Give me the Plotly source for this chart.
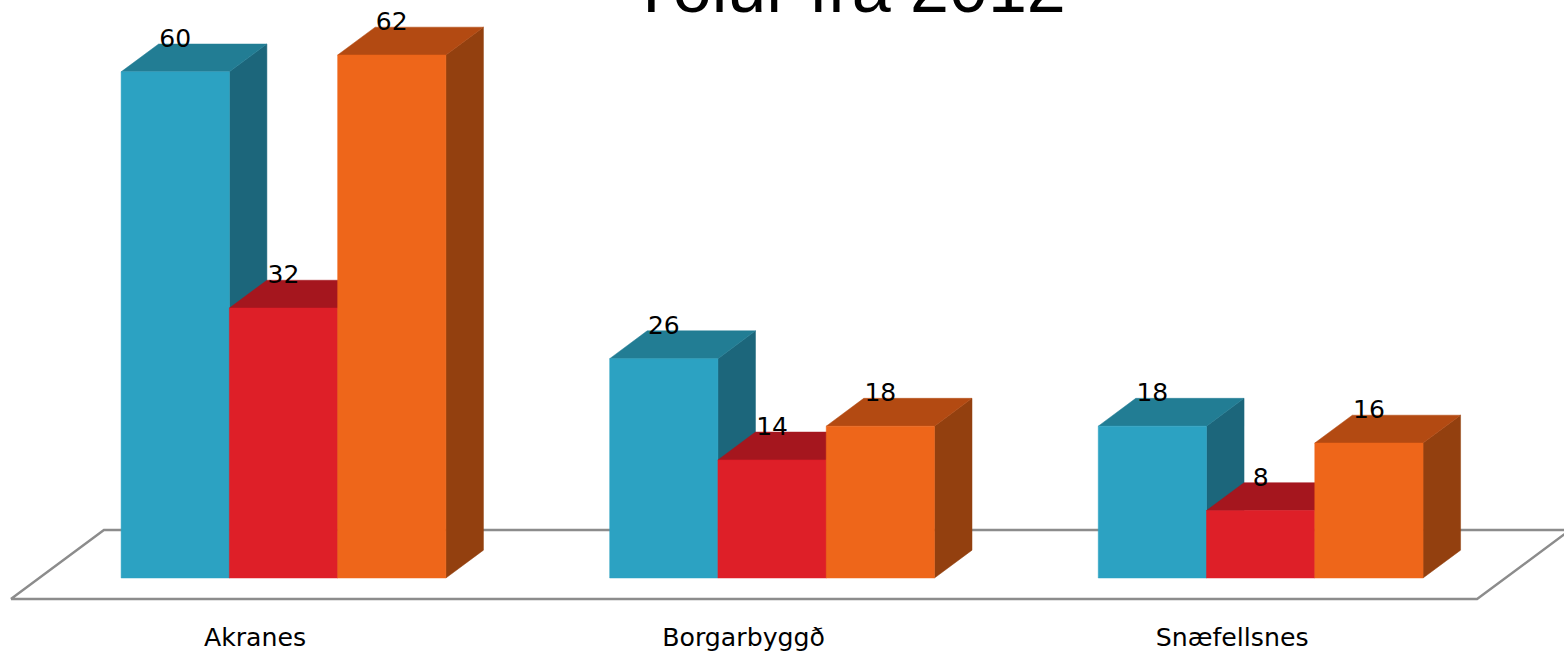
import plotly.graph_objects as go

categories = ["Akranes", "Borgarbyggð", "Snæfellsnes"]
series_a = [60, 26, 18]
series_b = [32, 14, 8]
series_c = [62, 18, 16]
chart_title = "Tölur frá 2012"

series = [series_a, series_b, series_c]
front_colors = ["#2CA2C2", "#DE1F28", "#EE661A"]
top_colors = ["#227D94", "#A5161E", "#B34A12"]
side_colors = ["#1C667B", "#A5161E", "#93400F"]

# axis-unit geometry (1 x unit = one category step, 1 y unit = one value unit)
BAR_W = 0.2216
DX, DY = 0.0768, 3.3        # oblique depth of each bar
FLOOR_L, FLOOR_R = -0.558, 2.443
FLOOR_Y = -2.49
FLOOR_DX, FLOOR_DY = 0.1904, 8.18
LABEL_DY = 0.38
TICK_SHIFT = -0.0583

fig = go.Figure()


def poly(xs, ys, color):
    fig.add_trace(go.Scatter(x=xs + xs[:1], y=ys + ys[:1], mode="lines", fill="toself",
                             fillcolor=color, line=dict(color=color, width=0.5),
                             hoverinfo="skip", showlegend=False))


# floor
fx = [FLOOR_L, FLOOR_R, FLOOR_R + FLOOR_DX, FLOOR_L + FLOOR_DX]
fy = [FLOOR_Y, FLOOR_Y, FLOOR_Y + FLOOR_DY, FLOOR_Y + FLOOR_DY]
fig.add_trace(go.Scatter(x=fx + fx[:1], y=fy + fy[:1], mode="lines", fill="toself",
                         fillcolor="#FFFFFF", line=dict(color="#8C8C8C", width=2.4),
                         hoverinfo="skip", showlegend=False))

lx, ly, lt = [], [], []
for g in range(len(categories)):
    for s, vals in enumerate(series):
        v = vals[g]
        x0 = g + (s - 1.5) * BAR_W
        x1 = x0 + BAR_W
        poly([x1, x1 + DX, x1 + DX, x1], [0, DY, v + DY, v], side_colors[s])
        poly([x0, x0 + DX, x1 + DX, x1], [v, v + DY, v + DY, v], top_colors[s])
        poly([x0, x1, x1, x0], [0, 0, v, v], front_colors[s])
        lx.append((x0 + x1) / 2)
        ly.append(v + DY + LABEL_DY)
        lt.append(str(v))

fig.add_trace(go.Scatter(x=lx, y=ly, text=lt, mode="text", textposition="middle center",
                         textfont=dict(family="DejaVu Sans", size=25, color="#000000"),
                         hoverinfo="skip", showlegend=False))

fig.update_layout(
    width=1564, height=656,
    margin=dict(l=0, r=0, t=0, b=36, autoexpand=False),
    paper_bgcolor="white", plot_bgcolor="white",
    showlegend=False,
    annotations=[dict(text=chart_title, xref="paper", yref="paper", x=0.5425, y=0.953,
                      xanchor="center", yanchor="bottom", showarrow=False,
                      font=dict(family="Liberation Sans", size=70, color="#000000"))],
    xaxis=dict(range=[-0.5803, 2.6209], showgrid=False, zeroline=False, showline=False,
               tickmode="array", tickvals=[i + TICK_SHIFT for i in range(len(categories))],
               ticktext=categories, ticks="",
               tickfont=dict(family="DejaVu Sans", size=25.2, color="#000000")),
    yaxis=dict(range=[-4.98, 68.52], visible=False),
)
fig.write_html("out.html", config=dict(displayModeBar=False),
               post_script="document.body.style.margin='0';")
